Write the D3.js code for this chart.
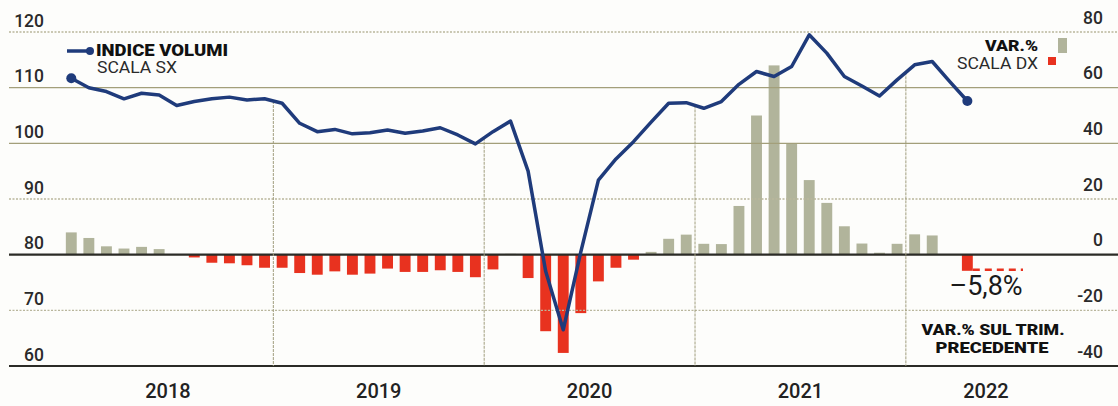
<!DOCTYPE html>
<html lang="it">
<head>
<meta charset="utf-8">
<title>Indice volumi</title>
<script src="https://cdn.jsdelivr.net/npm/d3@7/dist/d3.min.js"></script>
<style>
  html, body { margin: 0; padding: 0; background: #fdfdfb; }
  svg { display: block; font-family: Roboto, "Liberation Sans", sans-serif; }
</style>
</head>
<body>
<script>
// dati mensili, gen 2018 - apr 2022
var years = ["2018", "2019", "2020", "2021", "2022"];

// indice volumi (scala sx)
var indice = [
  111.7, 110.0, 109.3, 108.0, 109.0, 108.7, 106.8, 107.5, 108.0, 108.3, 107.8, 108.0,
  107.2, 103.6, 102.1, 102.5, 101.7, 101.9, 102.4, 101.8, 102.2, 102.8, 101.5, 99.9,
  102.1, 104.0, 95.0, 77.0, 66.5, 80.5, 93.4, 97.2, 100.3, 103.8, 107.2, 107.3,
  106.3, 107.5, 110.6, 112.9, 112.0, 113.8, 119.5, 116.2, 112.0, 110.3, 108.5, 111.4,
  114.1, 114.7, 111.1, 107.6
];

// var.% sul trimestre precedente (scala dx)
var varPct = [
  8.0, 6.0, 3.0, 2.2, 2.8, 2.0, 0, -1.0, -2.9, -3.1, -3.8, -4.7,
  -4.7, -6.6, -7.2, -6.0, -7.2, -6.8, -5.0, -6.2, -6.2, -5.6, -6.2, -8.1,
  -5.3, 0.3, -8.4, -27.5, -35.3, -21.0, -9.6, -4.7, -1.8, 1.0, 5.7, 7.2,
  3.9, 3.8, 17.5, 50.0, 68.0, 40.0, 26.8, 18.6, 10.2, 4.0, 0.7, 3.9,
  7.3, 6.9, 0, -5.8
];

var leftTicks = [60, 70, 80, 90, 100, 110, 120];
var rightTicks = [-40, -20, 0, 20, 40, 60, 80];
var lastLabel = "–5,8%";

var months = [];
years.forEach(function (y) {
  for (var m = 1; m <= 12; m++) months.push(y + "-" + (m < 10 ? "0" + m : m));
});
months = months.slice(0, indice.length);

var W = 1118, H = 406;
var svg = d3.select("body").append("svg").attr("width", W).attr("height", H);

var x = d3.scaleBand().domain(months).range([62.5, 62.5 + 17.57 * months.length]).paddingInner(0.38).paddingOuter(0.19);
var step = x.step();
var bx = function (i) { return x.range()[0] + i * step; }; // bordo del mese i
var yL = d3.scaleLinear().domain([60, 120]).range([366, 32]);
var yR = d3.scaleLinear().domain([-40, 80]).range([366, 32]);

var gridX0 = 9, gridX1 = W;
var grey = "#b1b49b", red = "#e8321f", blue = "#1f3b7b";

// barre
svg.append("g").selectAll("rect")
  .data(varPct.map(function (v, i) { return { m: months[i], v: v }; }))
  .enter().append("rect")
  .attr("x", function (d) { return x(d.m); })
  .attr("width", x.bandwidth())
  .attr("y", function (d) { return d.v >= 0 ? yR(d.v) : yR(0); })
  .attr("height", function (d) { return Math.abs(yR(d.v) - yR(0)); })
  .style("fill", function (d) { return d.v >= 0 ? grey : red; });

// griglia orizzontale
var grid = svg.append("g");
leftTicks.forEach(function (t) {
  var thick = (t === 80 || t === 60);
  var solid = (t === 100 || t === 110);
  grid.append("line")
    .attr("x1", gridX0).attr("x2", gridX1)
    .attr("y1", yL(t)).attr("y2", yL(t))
    .style("stroke", thick ? "#2b2b26" : (solid ? "#a39f7a" : "#b9b69c"))
    .style("stroke-width", thick ? 2.2 : 1.3)
    .style("stroke-dasharray", (thick || solid) ? null : "2,1.5");
});

// linee verticali di inizio anno, dalla curva in giù
var lastIdx = indice.length - 1;
[12, 24, 36, 48].forEach(function (i) {
  var v = (indice[i - 1] + indice[i]) / 2;
  grid.append("line")
    .attr("x1", bx(i)).attr("x2", bx(i))
    .attr("y1", yL(v)).attr("y2", yL(60))
    .style("stroke", "#a09d7d")
    .style("stroke-width", 1)
    .style("stroke-dasharray", "3,1");
});

// linea rossa tratteggiata dell'ultimo dato
svg.append("line")
  .attr("x1", x(months[lastIdx]) + x.bandwidth()).attr("x2", 1023)
  .attr("y1", yR(varPct[lastIdx]) - 1).attr("y2", yR(varPct[lastIdx]) - 1)
  .style("stroke", red).style("stroke-width", 2.5)
  .style("stroke-dasharray", "7,5");

// curva indice
var line = d3.line()
  .x(function (d, i) { return x(months[i]) + x.bandwidth() / 2; })
  .y(function (d) { return yL(d); });
svg.append("path")
  .datum(indice)
  .attr("d", line)
  .style("fill", "none")
  .style("stroke", blue)
  .style("stroke-width", 3.5)
  .style("stroke-linejoin", "round");
[0, lastIdx].forEach(function (i) {
  svg.append("circle")
    .attr("cx", x(months[i]) + x.bandwidth() / 2)
    .attr("cy", yL(indice[i]))
    .attr("r", 5)
    .style("fill", blue);
});

// assi
var axL = svg.append("g").attr("transform", "translate(44,-6)")
  .call(d3.axisLeft(yL).tickValues(leftTicks).tickSize(0).tickPadding(0));
var axR = svg.append("g").attr("transform", "translate(1103,-9)")
  .call(d3.axisRight(yR).tickValues(rightTicks).tickSize(0).tickPadding(0).tickFormat(function (d) { return d < 0 ? "-" + Math.abs(d) : d; }));
[axL, axR].forEach(function (ax) {
  ax.select(".domain").remove();
  ax.selectAll("text")
    .attr("dy", 0)
    .style("font-family", "Roboto, sans-serif")
    .style("font-size", "17.5px")
    .style("font-weight", 500)
    .style("fill", "#2a2a2a");
});
axR.selectAll("text").attr("text-anchor", "end");

// anni
var plotRight = 1066;
svg.append("g").selectAll("text")
  .data(years)
  .enter().append("text")
  .attr("x", function (d, i) {
    var a = bx(i * 12), b = Math.min(bx(i * 12 + 12), plotRight);
    return (a + b) / 2;
  })
  .attr("y", 398)
  .attr("text-anchor", "middle")
  .style("font-size", "20px")
  .style("font-weight", 500)
  .style("fill", "#222")
  .text(function (d) { return d; });

// legenda sinistra
svg.append("line").attr("x1", 67).attr("x2", 90).attr("y1", 51).attr("y2", 51)
  .style("stroke", blue).style("stroke-width", 3.5);
svg.append("circle").attr("cx", 90).attr("cy", 51).attr("r", 4).style("fill", blue);
svg.append("text").attr("x", 96).attr("y", 56)
  .style("font-size", "16px").style("font-weight", 900).style("fill", "#111")
  .attr("textLength", 132).attr("lengthAdjust", "spacingAndGlyphs").text("INDICE VOLUMI");
svg.append("text").attr("x", 97).attr("y", 73)
  .style("font-size", "16px").style("fill", "#2a2a2a")
  .attr("textLength", 80).attr("lengthAdjust", "spacingAndGlyphs").text("SCALA SX");

// legenda destra
svg.append("text").attr("x", 1038).attr("y", 51).attr("text-anchor", "end")
  .style("font-size", "15px").style("font-weight", 900).style("fill", "#111")
  .attr("textLength", 53).attr("lengthAdjust", "spacingAndGlyphs").text("VAR.%");
svg.append("text").attr("x", 1038).attr("y", 69).attr("text-anchor", "end")
  .style("font-size", "16px").style("fill", "#2a2a2a")
  .attr("textLength", 81).attr("lengthAdjust", "spacingAndGlyphs").text("SCALA DX");
svg.append("rect").attr("x", 1058).attr("y", 38).attr("width", 9).attr("height", 15).style("fill", grey);
svg.append("rect").attr("x", 1048).attr("y", 57).attr("width", 8).attr("height", 8).style("fill", red);

// etichette ultimo dato
svg.append("text").attr("x", 986).attr("y", 295).attr("text-anchor", "middle")
  .style("font-size", "27px").style("fill", "#1a1a1a")
  .text(lastLabel);
svg.append("text").attr("x", 993).attr("y", 335).attr("text-anchor", "middle")
  .style("font-size", "15px").style("font-weight", 900).style("fill", "#111")
  .attr("textLength", 143).attr("lengthAdjust", "spacingAndGlyphs").text("VAR.% SUL TRIM.");
svg.append("text").attr("x", 992).attr("y", 353).attr("text-anchor", "middle")
  .style("font-size", "15px").style("font-weight", 900).style("fill", "#111")
  .attr("textLength", 113).attr("lengthAdjust", "spacingAndGlyphs").text("PRECEDENTE");
</script>
</body>
</html>
